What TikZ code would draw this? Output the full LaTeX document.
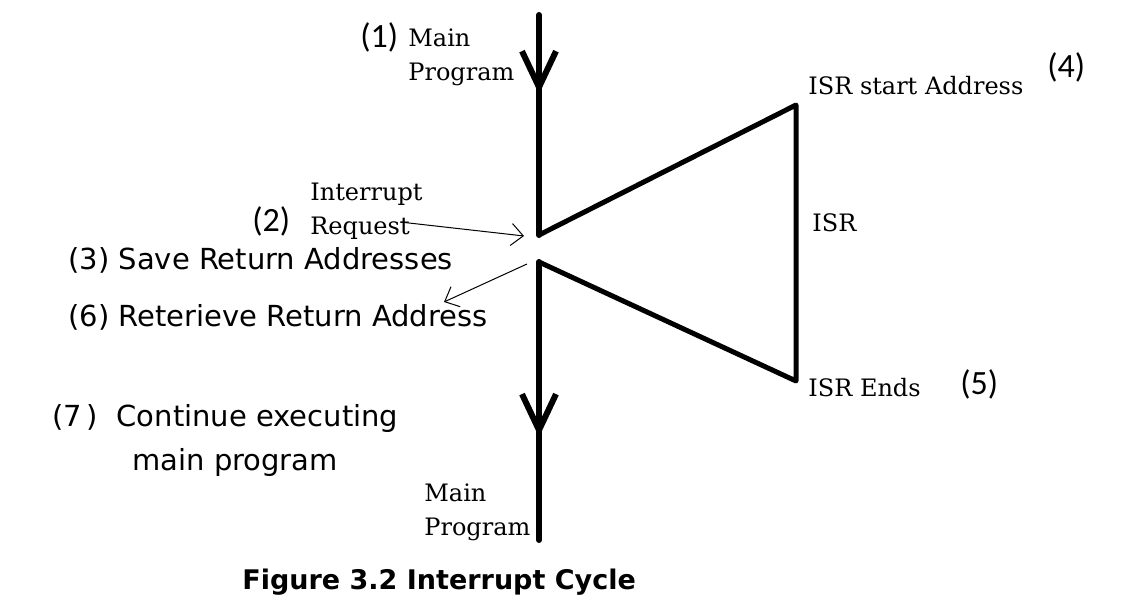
\documentclass[tikz,border=0pt]{standalone}
\usepackage{fontspec}
\setmainfont{DejaVu Serif}
\newfontfamily\numfont{Carlito}
\newfontfamily\handfont{DejaVu Sans}
\usepackage{tikz}
\usetikzlibrary{arrows.meta,positioning,decorations.markings}
\tikzstyle{flow} = [line width=3pt, line cap=round]
\tikzstyle{isrline} = [line width=2.5pt, line join=round, line cap=round]
\tikzstyle{pointer} = [line width=0.5pt, -{Straight Barb[length=6pt,width=11pt]}]

\begin{document}
\begin{tikzpicture}[x=0.5pt,y=-0.5pt]
\tikzset{%
	serif/.style = {font=\fontsize{12}{17}\selectfont, inner sep=0pt, anchor=base west, align=left},
	num/.style = {font=\numfont\fontsize{17}{20}\selectfont, inner sep=0pt, anchor=base west},
	hand/.style = {font=\handfont\fontsize{14.5}{22}\selectfont, inner sep=0pt, anchor=base west, align=left},
	capt/.style = {font=\handfont\bfseries\fontsize{13.5}{16}\selectfont, inner sep=0pt, anchor=base west},
	downmark/.style = {postaction=decorate, decoration={markings,
		mark=at position #1 with {\arrow{Straight Barb[length=18pt,width=17pt,line width=3pt]}}}}
}
\useasboundingbox (0,0) rectangle (1148,613);

\coordinate (top) at (539,15);
\coordinate (gaptop) at (539,235);
\coordinate (gapbot) at (539,262);
\coordinate (bottom) at (539,540);
\coordinate (isrhi) at (796,105);
\coordinate (isrlo) at (796,381);
\coordinate (irqfrom) at (400,222);
\coordinate (irqtip) at (524,236);
\coordinate (retfrom) at (527,264);
\coordinate (rettip) at (444,302);

% multi-line labels sit on the baseline of their last line
\node(num1) [num] at (360,48) {(1)};
\node(mainin) [serif] at (408,81) {Main\\Program};
\node(num2) [num] at (252,232) {(2)};
\node(irq) [serif] at (310,235) {Interrupt\\Request};
\node(save) [hand] at (68,270) {(3) Save Return Addresses};
\node(retr) [hand] at (68,327) {(6) Reterieve Return Address};
\node(cont) [hand] at (52,471) {(7\,)\ \ Continue executing\\\hspace*{40pt}main program};
\node(mainout) [serif] at (424,536) {Main\\Program};

\node(isrstart) [serif] at (808,95) {ISR start Address};
\node(num4) [num] at (1047,78) {(4)};
\node(isr) [serif] at (812,232) {ISR};
\node(isrend) [serif] at (808,397) {ISR Ends};
\node(num5) [num] at (960,395) {(5)};

\node(caption) [capt] at (242,590) {Figure 3.2 Interrupt Cycle};

\draw [flow, downmark=0.36] (top) -- (gaptop);
\draw [flow, downmark=0.63] (gapbot) -- (bottom);
\draw [isrline] (gaptop) -- (isrhi) -- (isrlo) -- (gapbot);
\draw [pointer] (irqfrom) -- (irqtip);
\draw [pointer] (retfrom) -- (rettip);
\end{tikzpicture}
\end{document}
